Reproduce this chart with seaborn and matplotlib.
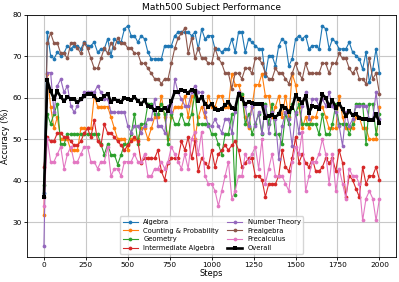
import pandas as pd
import numpy as np
import matplotlib
matplotlib.use("Agg")
import matplotlib.pyplot as plt
import seaborn as sns

steps = list(range(0, 2001, 20))

algebra = [37.1, 75.8, 70.2, 69.4, 71.0, 70.2, 70.8, 72.6, 71.8, 72.6,
           72.6, 71.8, 73.4, 72.6, 72.6, 73.4, 71.0, 71.8, 71.8, 74.2,
           70.2, 74.2, 73.4, 73.4, 76.6, 77.4, 75.0, 75.0, 73.4, 75.0,
           74.2, 71.0, 69.4, 69.4, 69.4, 69.4, 72.6, 72.6, 72.6, 75.0,
           75.8, 75.8, 75.8, 75.8, 75.0, 75.8, 71.8, 76.6, 74.2, 75.0,
           75.0, 71.8, 71.8, 71.0, 71.8, 71.8, 74.2, 71.0, 75.8, 75.8,
           71.0, 74.2, 73.4, 72.6, 71.8, 71.8, 65.3, 70.2, 70.2, 67.7,
           72.6, 74.2, 73.4, 67.7, 69.4, 74.2, 75.0, 74.2, 75.0, 71.8,
           72.6, 72.6, 71.8, 77.4, 76.6, 71.8, 74.2, 73.4, 71.8, 71.8,
           71.8, 73.4, 71.0, 70.2, 69.4, 66.9, 71.0, 63.7, 66.9, 71.8,
           66.1]
counting = [31.6, 65.8, 57.9, 52.6, 55.3, 50.0, 50.0, 50.0, 47.4, 47.4,
            47.4, 52.6, 52.6, 52.6, 52.6, 60.5, 57.9, 57.9, 57.9, 57.9,
            55.3, 52.6, 50.0, 50.0, 50.0, 47.4, 50.0, 50.0, 50.0, 52.6,
            52.6, 50.0, 52.6, 55.3, 55.3, 60.5, 55.3, 50.0, 55.3, 57.9,
            57.9, 57.9, 60.5, 55.3, 60.5, 50.0, 55.3, 57.9, 55.3, 60.5,
            57.9, 57.9, 60.5, 60.5, 57.9, 57.9, 65.8, 63.2, 63.2, 60.5,
            55.3, 52.6, 57.9, 63.2, 63.2, 65.8, 60.5, 60.5, 55.3, 57.9,
            60.5, 55.3, 60.5, 55.3, 65.8, 63.2, 57.9, 52.6, 55.3, 52.6,
            55.3, 55.3, 57.9, 57.9, 55.3, 52.6, 52.6, 52.6, 60.5, 55.3,
            52.6, 52.6, 52.6, 55.3, 55.3, 52.6, 52.6, 50.0, 50.0, 50.0,
            57.9]
geometry = [39.0, 56.1, 53.7, 56.1, 58.5, 48.8, 48.8, 51.2, 51.2, 51.2,
            51.2, 51.2, 51.2, 51.2, 51.2, 51.2, 51.2, 48.8, 46.3, 48.8,
            46.3, 46.3, 43.9, 46.3, 48.8, 48.8, 51.2, 56.1, 48.8, 53.7,
            53.7, 58.5, 58.5, 56.1, 56.1, 58.5, 56.1, 48.8, 56.1, 53.7,
            53.7, 56.1, 53.7, 53.7, 56.1, 61.0, 53.7, 53.7, 53.7, 53.7,
            51.2, 51.2, 48.8, 46.3, 51.2, 51.2, 56.1, 36.6, 61.0, 61.0,
            53.7, 56.1, 51.2, 53.7, 56.1, 51.2, 58.5, 53.7, 58.5, 51.2,
            51.2, 48.8, 56.1, 53.7, 58.5, 56.1, 58.5, 53.7, 53.7, 53.7,
            53.7, 53.7, 51.2, 56.1, 51.2, 51.2, 53.7, 58.5, 53.7, 53.7,
            53.7, 51.2, 53.7, 58.5, 58.5, 58.5, 48.8, 58.5, 58.5, 51.2,
            56.1]
inter_algebra = [43.3, 50.5, 49.5, 49.5, 51.5, 51.5, 50.5, 50.5, 49.5, 48.5,
                 48.5, 49.5, 51.5, 52.6, 50.5, 54.6, 49.5, 48.5, 53.6, 51.5,
                 51.5, 50.5, 49.5, 48.5, 47.4, 48.5, 49.5, 50.5, 49.5, 44.3,
                 45.4, 45.4, 45.4, 45.4, 47.4, 42.3, 40.2, 44.3, 45.4, 45.4,
                 45.4, 49.5, 47.4, 50.5, 45.4, 49.5, 42.3, 45.4, 44.3, 43.3,
                 47.4, 43.3, 46.4, 47.4, 48.5, 47.4, 48.5, 49.5, 47.4, 43.3,
                 44.3, 45.4, 45.4, 41.2, 41.2, 40.2, 36.1, 39.2, 39.2, 39.2,
                 41.2, 47.4, 43.3, 42.3, 45.4, 50.5, 44.3, 46.4, 44.3, 43.3,
                 45.4, 42.3, 42.3, 43.3, 45.4, 44.3, 45.4, 42.3, 47.4, 44.3,
                 36.1, 41.2, 40.2, 38.1, 36.1, 43.3, 39.2, 41.2, 41.2, 43.3,
                 40.2]
number_theory = [24.2, 66.1, 66.1, 56.5, 62.9, 64.5, 61.3, 62.9, 58.1, 56.5,
                 58.1, 59.7, 61.3, 61.3, 61.3, 61.3, 62.9, 61.3, 59.7, 59.7,
                 56.5, 56.5, 56.5, 56.5, 56.5, 53.2, 51.6, 53.2, 53.2, 51.6,
                 53.2, 54.8, 54.8, 59.7, 53.2, 53.2, 51.6, 58.1, 56.5, 64.5,
                 61.3, 59.7, 58.1, 58.1, 61.3, 62.9, 61.3, 61.3, 56.5, 53.2,
                 53.2, 54.8, 53.2, 51.6, 54.8, 54.8, 51.6, 56.5, 61.3, 59.7,
                 58.1, 53.2, 58.1, 53.2, 56.5, 51.6, 58.1, 51.6, 56.5, 54.8,
                 45.2, 53.2, 56.5, 54.8, 48.4, 56.5, 51.6, 58.1, 61.3, 54.8,
                 59.7, 59.7, 58.1, 59.7, 58.1, 61.3, 58.1, 56.5, 53.2, 48.4,
                 56.5, 53.2, 54.8, 58.1, 58.1, 58.1, 58.1, 54.8, 54.8, 61.3,
                 54.8]
prealgebra = [36.0, 73.2, 75.6, 73.2, 73.2, 70.7, 70.7, 69.5, 73.2, 73.2,
              72.0, 70.7, 73.2, 72.0, 69.5, 67.1, 67.1, 69.5, 72.0, 70.7,
              73.2, 72.0, 74.4, 73.2, 73.2, 72.0, 72.0, 70.7, 70.7, 68.3,
              68.3, 67.1, 65.9, 64.6, 64.6, 63.4, 64.6, 64.6, 68.3, 72.0,
              74.4, 75.6, 76.8, 70.7, 74.4, 69.5, 72.0, 69.5, 69.5, 68.3,
              68.3, 72.0, 69.5, 68.3, 65.9, 65.9, 62.2, 65.9, 65.9, 64.6,
              67.1, 67.1, 65.9, 69.5, 69.5, 68.3, 65.9, 64.6, 64.6, 67.1,
              65.9, 65.9, 64.6, 63.4, 65.9, 68.3, 65.9, 64.6, 68.3, 65.9,
              65.9, 65.9, 65.9, 68.3, 68.3, 65.9, 68.3, 68.3, 70.7, 69.5,
              69.5, 67.1, 65.9, 67.1, 64.6, 64.6, 63.4, 69.5, 64.6, 65.9,
              61.0]
precalculus = [33.9, 50.0, 44.6, 44.6, 46.4, 48.2, 42.9, 46.4, 48.2, 44.6,
               44.6, 46.4, 48.2, 48.2, 44.6, 44.6, 42.9, 44.6, 44.6, 48.2,
               41.1, 42.9, 42.9, 41.1, 44.6, 44.6, 44.6, 46.4, 44.6, 44.6,
               46.4, 41.1, 41.1, 42.9, 42.9, 44.6, 42.9, 44.6, 48.2, 46.4,
               44.6, 42.9, 46.4, 42.9, 50.0, 51.8, 46.4, 51.8, 41.1, 39.3,
               39.3, 37.5, 33.9, 37.5, 41.1, 44.6, 35.7, 37.5, 41.1, 41.1,
               46.4, 44.6, 46.4, 48.2, 42.9, 50.0, 39.3, 42.9, 46.4, 41.1,
               41.1, 41.1, 39.3, 37.5, 44.6, 48.2, 46.4, 51.8, 37.5, 41.1,
               44.6, 44.6, 46.4, 50.0, 46.4, 39.3, 46.4, 37.5, 42.9, 39.3,
               35.7, 42.9, 41.1, 41.1, 39.3, 30.4, 35.7, 37.5, 35.7, 30.4,
               35.7]
overall = [36.0, 64.2, 61.6, 59.8, 61.6, 60.2, 59.2, 60.2, 59.8, 59.6,
           59.0, 59.6, 60.4, 61.0, 61.0, 60.4, 59.4, 59.6, 60.4, 61.0,
           59.0, 59.8, 59.2, 59.0, 60.0, 59.6, 59.4, 60.2, 59.2, 58.6,
           59.4, 58.0, 57.8, 57.0, 57.6, 57.0, 57.6, 56.8, 59.2, 61.4,
           61.4, 62.0, 61.6, 61.2, 62.0, 61.6, 59.2, 60.2, 58.6, 57.8,
           58.6, 57.2, 57.0, 57.4, 58.2, 59.0, 57.6, 57.4, 61.0, 59.8,
           58.4, 59.0, 58.8, 58.6, 58.6, 58.4, 55.2, 55.6, 55.8, 55.4,
           56.0, 58.0, 57.6, 56.6, 57.6, 60.6, 59.6, 58.8, 60.4, 56.4,
           58.0, 57.8, 57.4, 60.8, 60.0, 58.0, 59.4, 57.6, 58.6, 57.2,
           55.6, 56.8, 55.8, 56.0, 55.2, 55.0, 54.8, 54.6, 54.6, 56.0,
           54.0]

subjects = {
    "Algebra": algebra,
    "Counting & Probability": counting,
    "Geometry": geometry,
    "Intermediate Algebra": inter_algebra,
    "Number Theory": number_theory,
    "Prealgebra": prealgebra,
    "Precalculus": precalculus,
}
colors = sns.color_palette("tab10", 7)

fig, ax = plt.subplots(figsize=(3.99, 2.82), dpi=100)
for (name, vals), c in zip(subjects.items(), colors):
    sns.lineplot(x=steps, y=vals, ax=ax, color=c, marker="o", markersize=2.7,
                 markeredgewidth=0, linewidth=0.8, label=name)
sns.lineplot(x=steps, y=overall, ax=ax, color="black", marker="s", markersize=3,
             markeredgewidth=0, linewidth=1.9, label="Overall")

ax.grid(True, color="#c8c8c8", linewidth=0.8)
ax.set_axisbelow(True)
ax.set_title("Math500 Subject Performance", fontsize=6.6, pad=3)
ax.set_xlabel("Steps", fontsize=6, labelpad=1)
ax.set_ylabel("Accuracy (%)", fontsize=6, labelpad=2)
ax.tick_params(labelsize=5.3, length=2, pad=1.5, width=0.6)
for s in ax.spines.values():
    s.set_linewidth(0.6)
ax.legend(loc="lower center", ncol=2, fontsize=4.9, frameon=True,
          handlelength=2.2, columnspacing=1.2, labelspacing=0.4,
          borderpad=0.4, bbox_to_anchor=(0.5, 0.0))
plt.subplots_adjust(left=0.068, right=0.993, top=0.948, bottom=0.088)
fig.savefig("out.png", dpi=100)
